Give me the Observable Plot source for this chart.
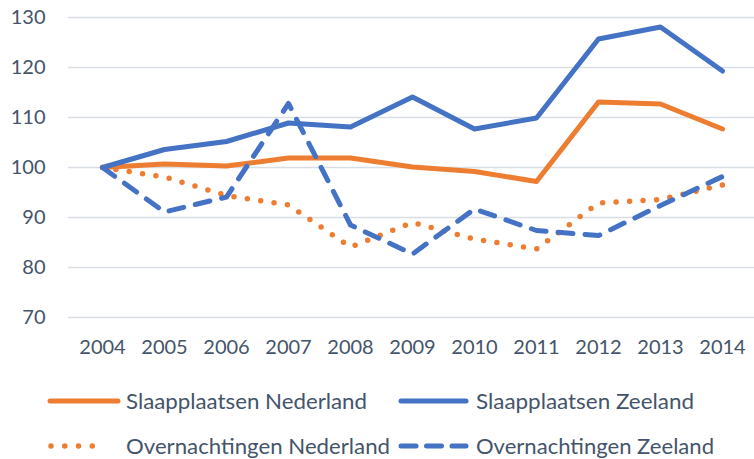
<!DOCTYPE html>
<html>
<head>
<meta charset="utf-8">
<script src="https://cdn.jsdelivr.net/npm/d3@7"></script>
<script src="https://cdn.jsdelivr.net/npm/@observablehq/plot@0.6"></script>
<style>
  body { margin: 0; background: #ffffff; }
  #chart svg { display: block; }
</style>
</head>
<body>
<div id="chart"></div>
<script>
const years = ["2004","2005","2006","2007","2008","2009","2010","2011","2012","2013","2014"];
const slaapNL = [100, 100.7, 100.3, 101.9, 101.9, 100.1, 99.2, 97.2, 113.1, 112.7, 107.7];
const slaapZL = [100, 103.6, 105.2, 108.9, 108.1, 114.1, 107.7, 109.9, 125.7, 128.1, 119.3];
const overNL  = [100, 98.1, 94.4, 92.5, 84.1, 89.0, 85.7, 83.7, 92.9, 93.6, 96.5];
const overZL  = [100, 91.1, 94.1, 112.8, 88.5, 82.7, 91.7, 87.4, 86.4, 92.4, 98.2];
const yTicks = [70, 80, 90, 100, 110, 120, 130];
const seriesNames = ["Slaapplaatsen Nederland", "Slaapplaatsen Zeeland", "Overnachtingen Nederland", "Overnachtingen Zeeland"];

const ORANGE = "#ed7d31", BLUE = "#4472c4", TEXT = "#44546a";
const table = (vals) => years.map((y, i) => ({year: y, value: vals[i]}));

const lineStyle = {strokeLinecap: "round", strokeLinejoin: "round"};

const plot = Plot.plot({
  width: 754,
  height: 375,
  marginTop: 17,
  marginBottom: 58,
  marginLeft: 68,
  marginRight: 0,
  style: {fontFamily: "Lato, 'Open Sans', sans-serif", fontSize: "20px", color: TEXT, background: "#ffffff"},
  x: {type: "point", domain: years, range: [68, 756], padding: 0.5},
  y: {domain: [70, 130]},
  marks: [
    Plot.ruleY(yTicks, {stroke: "#d9dee5", strokeWidth: 1.4}),
    Plot.axisY({ticks: yTicks, tickSize: 0, tickPadding: 23, label: null, fill: TEXT}),
    Plot.axisX({tickSize: 0, tickPadding: 22, label: null, fill: TEXT}),
    Plot.line(table(slaapNL), {x: "year", y: "value", stroke: ORANGE, strokeWidth: 5, ...lineStyle}),
    Plot.line(table(slaapZL), {x: "year", y: "value", stroke: BLUE, strokeWidth: 5, ...lineStyle}),
    Plot.line(table(overNL), {x: "year", y: "value", stroke: ORANGE, strokeWidth: 5.5, strokeDasharray: "0 13.5", ...lineStyle}),
    Plot.line(table(overZL), {x: "year", y: "value", stroke: BLUE, strokeWidth: 5, strokeDasharray: "15 12", ...lineStyle})
  ]
});
document.getElementById("chart").appendChild(plot);

// Legend below the chart
const legendItems = [
  {name: seriesNames[0], color: ORANGE, dash: null, w: 5, x1: 50, x2: 118, y: 26, tx: 126, tw: 241, ty: 34},
  {name: seriesNames[1], color: BLUE, dash: null, w: 5, x1: 401, x2: 466, y: 26, tx: 476, tw: 218, ty: 34},
  {name: seriesNames[2], color: ORANGE, dash: "0 13.75", w: 5.5, x1: 51, x2: 106, y: 71, tx: 126, tw: 264, ty: 79},
  {name: seriesNames[3], color: BLUE, dash: "15 10.5", w: 5, x1: 401, x2: 466, y: 71, tx: 476, tw: 238, ty: 79}
];
const legend = d3.create("svg")
  .attr("width", 754).attr("height", 84)
  .style("display", "block")
  .style("font-family", "Lato, 'Open Sans', sans-serif")
  .style("font-size", "21px");
for (const it of legendItems) {
  legend.append("line")
    .attr("x1", it.x1).attr("x2", it.x2).attr("y1", it.y).attr("y2", it.y)
    .attr("stroke", it.color).attr("stroke-width", it.w)
    .attr("stroke-linecap", "round")
    .attr("stroke-dasharray", it.dash);
  legend.append("text")
    .attr("x", it.tx).attr("y", it.ty)
    .attr("fill", TEXT)
    .attr("textLength", it.tw).attr("lengthAdjust", "spacingAndGlyphs")
    .text(it.name);
}
document.getElementById("chart").appendChild(legend.node());
</script>
</body>
</html>
